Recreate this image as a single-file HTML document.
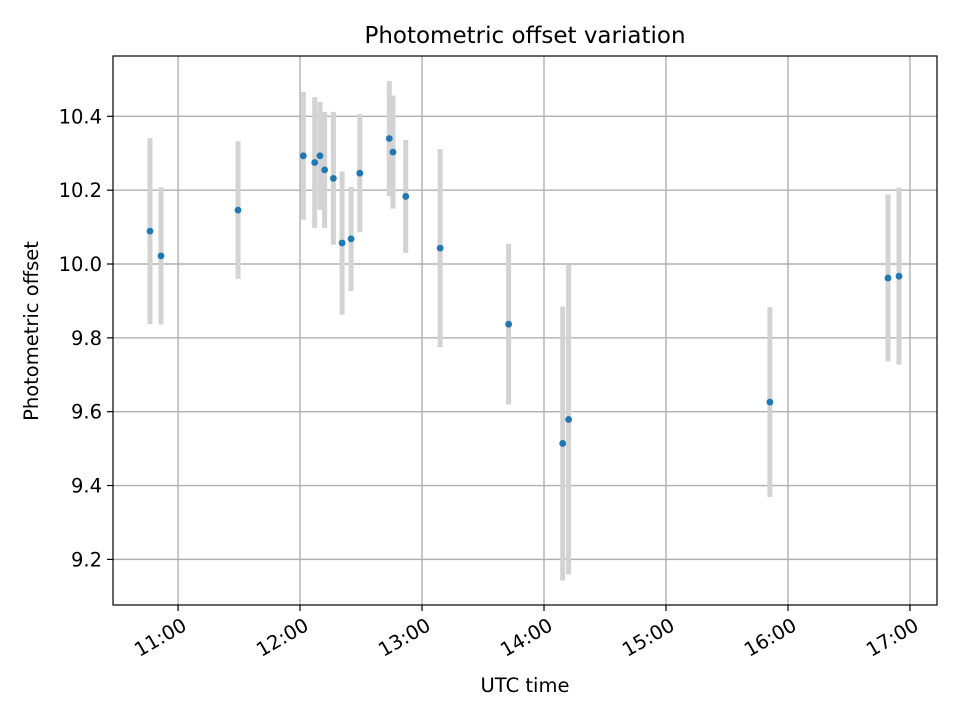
<!DOCTYPE html>
<html><head><meta charset="utf-8"><style>
body{margin:0;background:#fff;font-family:"Liberation Sans","DejaVu Sans",sans-serif;}
text{font-family:"DejaVu Sans","Liberation Sans",sans-serif;}
</style></head><body>
<svg id="chart" width="960" height="720" xmlns="http://www.w3.org/2000/svg">
<rect width="960" height="720" fill="#fff"/>
<g id="grid"></g>
<g id="errs"></g>
<g id="pts"></g>
<rect x="113" y="56" width="824" height="549" fill="none" stroke="#000" stroke-width="1.2"/>
<g id="axes"></g>
<text x="525" y="43" text-anchor="middle" font-size="23">Photometric offset variation</text>
<text x="525" y="692" text-anchor="middle" font-size="19.5">UTC time</text>
<text transform="translate(38,331) rotate(-90)" text-anchor="middle" font-size="19.5">Photometric offset</text>
</svg>
<script>
const times=[-13.8,-8.4,29.5,61.6,67.2,69.8,72.1,76.4,80.7,85.1,89.4,103.9,105.7,112.0,128.9,162.6,189.2,192.1,291.1,349.2,354.6]; // minutes after 11:00 UTC
const offsets=[10.089,10.022,10.146,10.293,10.275,10.293,10.255,10.232,10.057,10.068,10.246,10.340,10.303,10.183,10.043,9.837,9.514,9.579,9.626,9.962,9.967];
const errors=[0.252,0.186,0.186,0.173,0.177,0.146,0.157,0.180,0.194,0.141,0.160,0.156,0.153,0.153,0.268,0.218,0.371,0.420,0.257,0.226,0.240];
const xTickMin=[0,60,120,180,240,300,360];
const xTickLabels=["11:00","12:00","13:00","14:00","15:00","16:00","17:00"];
const yTicks=[9.2,9.4,9.6,9.8,10.0,10.2,10.4];
const yTickLabels=["9.2","9.4","9.6","9.8","10.0","10.2","10.4"];
const X0=113,X1=937,Y0=56,Y1=605;
const xMin=-32,xMax=373.3,yMin=9.0764,yMax=10.5634;
const xs=t=>X0+(t-xMin)/(xMax-xMin)*(X1-X0);
const ys=v=>Y1-(v-yMin)/(yMax-yMin)*(Y1-Y0);
const NS="http://www.w3.org/2000/svg";
function mk(tag,attrs,parent){const e=document.createElementNS(NS,tag);for(const k in attrs)e.setAttribute(k,attrs[k]);parent.appendChild(e);return e;}
const grid=document.getElementById('grid'),axes=document.getElementById('axes'),errs=document.getElementById('errs'),pts=document.getElementById('pts');
xTickMin.forEach((t,i)=>{const x=xs(t);
 const g=mk('line',{x1:x,x2:x,y1:Y0,y2:Y1,stroke:'#b0b0b0','stroke-width':1.4},grid);
 
 const tk=mk('line',{x1:x,x2:x,y1:Y1,y2:Y1+6,stroke:'#000','stroke-width':1.2},axes);
 
 const tx=mk('text',{x:x+3,y:Y1+26,'text-anchor':'end','font-size':19.5,transform:`rotate(-30 ${x+3} ${Y1+12})`},axes);
 
 tx.textContent=xTickLabels[i];});
yTicks.forEach((v,i)=>{const y=ys(v);
 const g=mk('line',{x1:X0,x2:X1,y1:y,y2:y,stroke:'#b0b0b0','stroke-width':1.4},grid);
 
 const tk=mk('line',{x1:X0-6,x2:X0,y1:y,y2:y,stroke:'#000','stroke-width':1.2},axes);
 
 const tx=mk('text',{x:X0-11,y:y+7,'text-anchor':'end','font-size':19.5},axes);
 
 tx.textContent=yTickLabels[i];});
times.forEach((t,i)=>{const x=xs(t);
 const e=mk('line',{x1:x,x2:x,y1:ys(offsets[i]+errors[i]),y2:ys(offsets[i]-errors[i]),stroke:'#d3d3d3','stroke-width':5},errs);
 
 const c=mk('circle',{cx:x,cy:ys(offsets[i]),r:3.4,fill:'#1f77b4'},pts);
 });
</script>
</body></html>
